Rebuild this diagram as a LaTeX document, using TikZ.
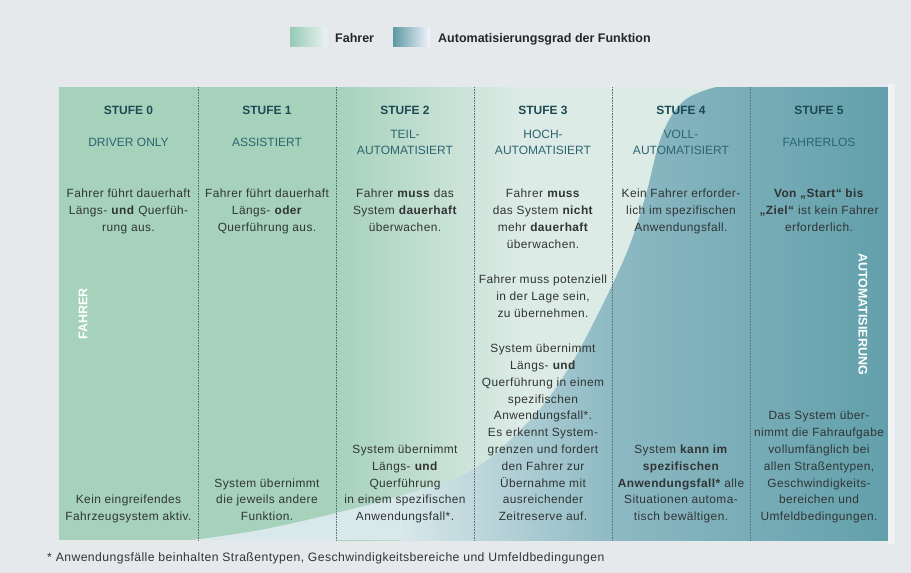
\documentclass[tikz,border=0pt]{standalone}
\usepackage{fontspec}
\setmainfont{Liberation Sans}
\newfontfamily\bodyf{Liberation Sans}[LetterSpace=3.5]
\definecolor{bgc}{HTML}{E6E9EB}
\definecolor{grn}{HTML}{A6D2BC}
\definecolor{lgt}{HTML}{DDEBE6}
\definecolor{bla}{HTML}{D9E8EA}
\definecolor{blb}{HTML}{8DB9C3}
\definecolor{blc}{HTML}{62A0AB}
\definecolor{hdrc}{HTML}{1D4A54}
\definecolor{subc}{HTML}{2D6570}
\definecolor{txt}{HTML}{303434}
\definecolor{divc}{HTML}{5D7473}
\tikzset{
  hdr/.style={font=\bfseries\fontsize{12}{14}\selectfont, text=hdrc, anchor=base, inner sep=0pt},
  sub/.style={font=\fontsize{12}{16}\selectfont, text=subc, align=center, anchor=north, inner sep=0pt,
    execute at begin node=\strut, execute at end node=\strut},
  body/.style={font=\bodyf\fontsize{11.9}{16.8}\selectfont, text=txt, align=center, inner sep=0pt,
    execute at begin node=\strut, execute at end node=\strut},
  top/.style={body, anchor=north},
  bot/.style={body, anchor=south},
  vlab/.style={font=\bfseries\fontsize{12.5}{14}\selectfont, text=white, inner sep=0pt},
  leg/.style={font=\bfseries\fontsize{12.5}{14}\selectfont, text=black!85, anchor=base west, inner sep=0pt},
  divider/.style={divc, densely dotted, line width=0.6pt}
}
\begin{document}
\begin{tikzpicture}[x=1pt,y=-1pt]
\useasboundingbox (0,0) rectangle (911,573);
\fill[bgc] (0,0) rectangle (911,573);
% soft shadow at right
\fill[white, opacity=0.45] (888,84) rectangle (895,544);
% driver (green) layer
\fill[grn] (59,87) rectangle (337,540);
\shade[left color=grn, right color=lgt] (336,87) rectangle (521,540);
\fill[lgt] (520,87) rectangle (888,540);
% automation (blue) layer
\begin{scope}
\clip plot[smooth, tension=0.6] coordinates {(185,541) (260,530) (336,513) (410,493) (474,469) (530,420) (565,374) (595,320) (627,252) (645,198) (662,135) (685,100) (720,86)} -- (888,86) -- (888,541) -- cycle;
\fill[bla] (59,87) rectangle (401,540);
\shade[left color=bla, right color=blb] (400,87) rectangle (613,540);
\shade[left color=blb, right color=blc] (612,87) rectangle (888,540);
\end{scope}
% column dividers
\foreach \xx in {198,336,474,612,750} \draw[divider] (\xx,87) -- (\xx,540);
% legend
\shade[left color=grn!90!teal, right color=lgt!60!white] (290,27) rectangle (327,46);
\node[leg] (legA) at (335,42.5) {Fahrer};
\shade[left color=blc!95!black, right color=blue!4!white] (393,27) rectangle (430,46);
\node[leg] (legB) at (438,42.5) {Automatisierungsgrad der Funktion};
% headers
\node[hdr] (h0) at (128.5,114) {STUFE 0};
\node[hdr] (h1) at (267,114) {STUFE 1};
\node[hdr] (h2) at (405,114) {STUFE 2};
\node[hdr] (h3) at (543,114) {STUFE 3};
\node[hdr] (h4) at (681,114) {STUFE 4};
\node[hdr] (h5) at (819,114) {STUFE 5};
\node[sub] (s0) at (128.5,135) {DRIVER ONLY};
\node[sub] (s1) at (267,135) {ASSISTIERT};
\node[sub] (s2) at (405,130) {TEIL-\\AUTOMATISIERT};
\node[sub] (s3) at (543,130) {HOCH-\\AUTOMATISIERT};
\node[sub] (s4) at (681,130) {VOLL-\\AUTOMATISIERT};
\node[sub] (s5) at (819,135) {FAHRERLOS};
% top texts
\node[top] (t0) at (128.5,189) {Fahrer führt dauerhaft\\Längs- \textbf{und} Querfüh-\\rung aus.};
\node[top] (t1) at (267,189) {Fahrer führt dauerhaft\\Längs- \textbf{oder}\\Querführung aus.};
\node[top] (t2) at (405,189) {Fahrer \textbf{muss} das\\System \textbf{dauerhaft}\\überwachen.};
\node[top] (t3) at (543,189) {Fahrer \textbf{muss}\\das System \textbf{nicht}\\mehr \textbf{dauerhaft}\\überwachen.};
\node[top] (t3b) at (543,275) {Fahrer muss potenziell\\in der Lage sein,\\zu übernehmen.};
\node[top] (t4) at (681,189) {Kein Fahrer erforder-\\lich im spezifischen\\Anwendungsfall.};
\node[top] (t5) at (819,189) {\textbf{Von „Start“ bis}\\\textbf{„Ziel“} ist kein Fahrer\\erforderlich.};
% bottom texts
\node[bot] (b0) at (128.5,526) {Kein eingreifendes\\Fahrzeugsystem aktiv.};
\node[bot] (b1) at (267,526) {System übernimmt\\die jeweils andere\\Funktion.};
\node[bot] (b2) at (405,526) {System übernimmt\\Längs- \textbf{und}\\Querführung\\in einem spezifischen\\Anwendungsfall*.};
\node[bot] (b3) at (543,526) {System übernimmt\\Längs- \textbf{und}\\Querführung in einem\\spezifischen\\Anwendungsfall*.\\Es erkennt System-\\grenzen und fordert\\den Fahrer zur\\Übernahme mit\\ausreichender\\Zeitreserve auf.};
\node[bot] (b4) at (681,526) {System \textbf{kann im}\\\textbf{spezifischen}\\\textbf{Anwendungsfall*} alle\\Situationen automa-\\tisch bewältigen.};
\node[bot] (b5) at (819,526) {Das System über-\\nimmt die Fahraufgabe\\vollumfänglich bei\\allen Straßentypen,\\Geschwindigkeits-\\bereichen und\\Umfeldbedingungen.};
% vertical labels
\node[vlab, rotate=90] (vf) at (83,314) {FAHRER};
\node[vlab, rotate=-90] (va) at (863,314) {AUTOMATISIERUNG};
% footnote
\node[font=\bodyf\fontsize{12.2}{14}\selectfont, text=txt, anchor=base west, inner sep=0pt] (fn) at (47,561) {* Anwendungsfälle beinhalten Straßentypen, Geschwindigkeitsbereiche und Umfeldbedingungen};
\end{tikzpicture}
\end{document}
